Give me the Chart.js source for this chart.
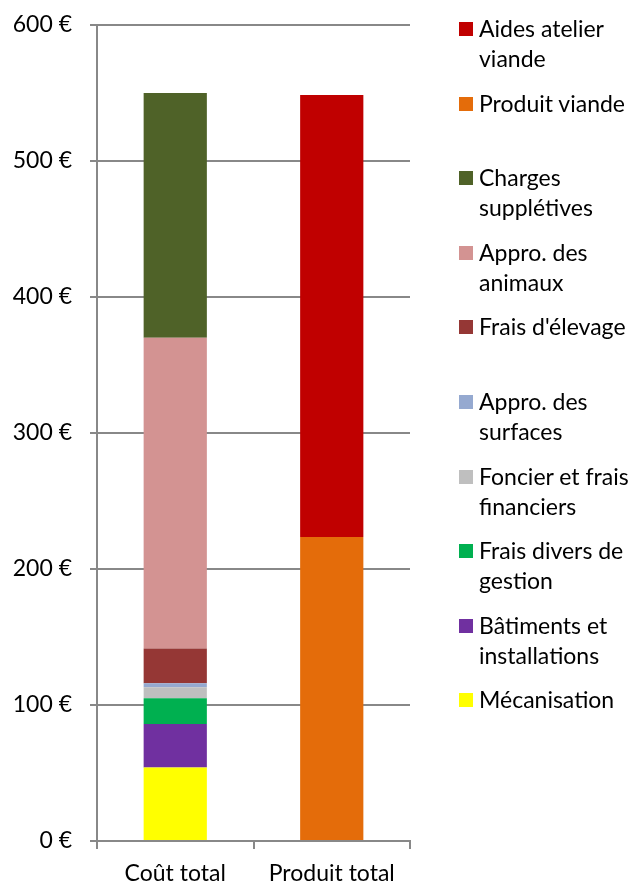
<!DOCTYPE html>
<html>
<head>
<meta charset="utf-8">
<script src="https://cdn.jsdelivr.net/npm/chart.js@4/dist/chart.umd.min.js"></script>
<style>
  html, body { margin: 0; padding: 0; background: #fff; }
  #wrap { position: relative; width: 629px; height: 883px; }
  #legend { position: absolute; left: 459px; top: 13px; width: 170px;
            font-family: Lato, "Noto Sans", sans-serif; font-size: 23px; color: #000; }
  .item { position: absolute; left: 0; width: 170px; }
  .box { position: absolute; left: 0; top: 9px; width: 14px; height: 14px; }
  .txt { position: absolute; left: 20px; width: 150px; line-height: 30px; }
</style>
</head>
<body>
<div id="wrap">
  <canvas id="chart" width="629" height="883"></canvas>
  <div id="legend"></div>
</div>
<script>
// Categories and tick values
const categories = ['Coût total', 'Produit total'];
const yTickValues = [0, 100, 200, 300, 400, 500, 600];

// Series, stacked from the bottom up: [Coût total, Produit total]
const seriesNames = [
    'Mécanisation',
    'Bâtiments et installations',
    'Frais divers de gestion',
    'Foncier et frais financiers',
    'Appro. des surfaces',
    "Frais d'élevage",
    'Appro. des animaux',
    'Charges supplétives',
    'Produit viande',
    'Aides atelier viande'
];
const mecanisation = [54, null];
const batiments = [32, null];
const fraisDivers = [19, null];
const foncier = [8, null];
const approSurfaces = [3, null];
const fraisElevage = [25.5, null];
const approAnimaux = [228.5, null];
const chargesSuppletives = [180, null];
const produitViande = [null, 223.5];
const aidesAtelier = [null, 325];

const seriesColors = ['#FFFF00', '#7030A0', '#00B050', '#BFBFBF', '#95A9D0',
                      '#953735', '#D39392', '#4F6228', '#E46C0A', '#C00000'];

const seriesValues = [mecanisation, batiments, fraisDivers, foncier, approSurfaces,
                      fraisElevage, approAnimaux, chargesSuppletives, produitViande, aidesAtelier];

const datasets = seriesNames.map(function(name, i) {
    return {
        label: name,
        data: seriesValues[i],
        backgroundColor: seriesColors[i],
        borderWidth: 0,
        categoryPercentage: 1,
        barPercentage: 0.404
    };
});

const axisColor = '#888888';
const font = { family: 'Lato, "Noto Sans", sans-serif', size: 23 };

new Chart(document.getElementById('chart'), {
    type: 'bar',
    data: { labels: categories, datasets: datasets },
    options: {
        responsive: false,
        animation: false,
        layout: { padding: { top: 25, right: 219, left: 0, bottom: 0 } },
        plugins: {
            legend: { display: false },
            tooltip: { enabled: false }
        },
        scales: {
            x: {
                stacked: true,
                afterFit: function(scale) {
                    scale.height = 42;
                    scale.paddingLeft = 0;
                    scale.paddingRight = 0;
                },
                grid: { drawOnChartArea: false, drawTicks: true, tickLength: 8,
                        color: axisColor, lineWidth: 2 },
                border: { display: true, color: axisColor, width: 2 },
                ticks: { color: '#000', font: font, padding: 11 }
            },
            y: {
                stacked: true,
                min: 0,
                max: 600,
                afterFit: function(scale) {
                    scale.width = 97;
                    scale.paddingTop = 0;
                    scale.paddingBottom = 0;
                },
                afterBuildTicks: function(scale) {
                    scale.ticks = yTickValues.map(function(v) { return { value: v }; });
                },
                grid: { color: axisColor, lineWidth: 2, tickLength: 7 },
                border: { display: true, color: axisColor, width: 2 },
                ticks: {
                    color: '#000',
                    font: font,
                    padding: 18,
                    callback: function(value) { return value + ' €'; }
                }
            }
        }
    }
});

// Legend, top entry = top of the stacks
const legend = document.getElementById('legend');
datasets.slice().reverse().forEach(function(ds, i) {
    const item = document.createElement('div');
    item.className = 'item';
    item.style.top = (i * 74.6) + 'px';
    item.innerHTML = '<div class="box" style="background:' + ds.backgroundColor + '"></div>' +
                     '<div class="txt">' + ds.label + '</div>';
    legend.appendChild(item);
});
</script>
</body>
</html>
